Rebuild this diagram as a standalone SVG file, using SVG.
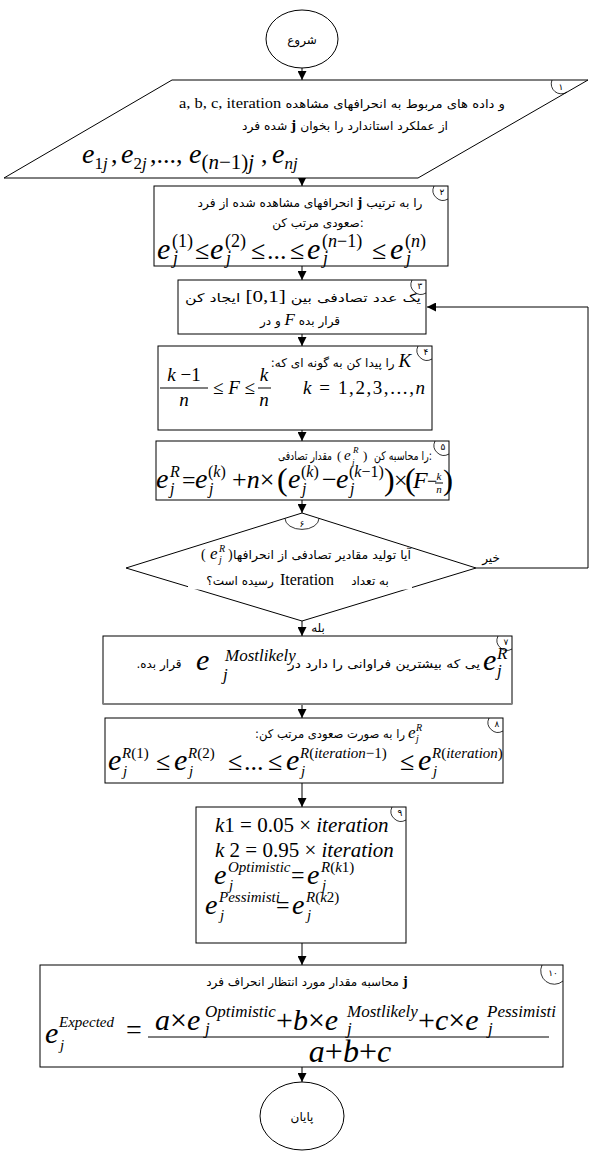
<svg xmlns="http://www.w3.org/2000/svg" width="592" height="1151" viewBox="0 0 592 1151">
<style>
.sh{fill:#fff;stroke:#000;stroke-width:1}
.cn{fill:none;stroke:#000;stroke-width:1}
.nm{fill:none;stroke:#000;stroke-width:0.8}
.fa{font-family:"DejaVu Sans",sans-serif;font-size:12px;fill:#000}
.dg{font-family:"DejaVu Sans",sans-serif;font-size:9px;fill:#000}
.m{font-family:"Liberation Serif",serif;font-style:italic;fill:#000}
.r{font-family:"Liberation Serif",serif;font-style:normal}
.e{font-size:30px}
.s{font-size:18px}
.bar{stroke:#000;stroke-width:1}
</style>
<defs>
<marker id="ah" markerWidth="9" markerHeight="9" refX="9" refY="4.5" orient="auto" markerUnits="userSpaceOnUse"><path d="M0,0 L9,4.5 L0,9 Z" fill="#000"/></marker>
</defs>

<g id="connectors" class="cn" marker-end="url(#ah)">
<path d="M302,68 V80"/>
<path d="M302,178 V186"/>
<path d="M302,266 V280"/>
<path d="M302,334 V346"/>
<path d="M302,430 V441"/>
<path d="M302,500 V513"/>
<path d="M476,568 H588 V307 H427"/>
<path d="M302,621 V636"/>
<path d="M302,704 V718"/>
<path d="M302,783 V807"/>
<path d="M302,943 V965"/>
<path d="M302,1067 V1082"/>
</g>
<text class="fa" x="491" y="562" text-anchor="middle" font-size="11">خیر</text>
<text class="fa" x="318" y="632" text-anchor="middle" font-size="11">بله</text>

<g id="start">
<ellipse class="sh" cx="302" cy="39" rx="36" ry="29"/>
<text class="fa" x="302" y="44" text-anchor="middle" font-size="13">شروع</text>
</g>

<g id="n1">
<polygon class="sh" points="172,80 588,80 418,178 4,178"/>
<path class="nm" d="M552,80 A10 10 0 0 0 567,92"/>
<text class="dg" x="561" y="90" text-anchor="middle">۱</text>
<text class="fa" x="342" y="108" text-anchor="middle" textLength="326" lengthAdjust="spacingAndGlyphs"><tspan class="r" font-size="15">a, b, c, iteration</tspan> و داده های مربوط به انحرافهای مشاهده</text>
<text class="fa" x="345" y="130" text-anchor="middle" textLength="206" lengthAdjust="spacingAndGlyphs">شده فرد <tspan class="r" font-weight="bold" font-size="15">j</tspan> از عملکرد استاندارد را بخوان</text>
<g class="m">
<text x="82" y="163" font-size="28">e<tspan font-size="17" dy="6"><tspan class="r">1</tspan>j</tspan></text>
<text class="r" x="111" y="163" font-size="26">,</text>
<text x="121" y="163" font-size="28">e<tspan font-size="17" dy="6"><tspan class="r">2</tspan>j</tspan></text>
<text class="r" x="150" y="163" font-size="26">,...,</text>
<text x="189" y="163" font-size="28">e<tspan font-size="21" dy="6"><tspan class="r">(</tspan>n<tspan class="r">−1)</tspan>j</tspan></text>
<text class="r" x="261" y="163" font-size="26">,</text>
<text x="272" y="163" font-size="28">e<tspan font-size="17" dy="6">nj</tspan></text>
</g>
</g>

<g id="n2">
<rect class="sh" x="154" y="186" width="294" height="80"/>
<path class="nm" d="M434,186 A10 10 0 0 0 448,199"/>
<text class="dg" x="442" y="195" text-anchor="middle">۲</text>
<text class="fa" x="310" y="207" text-anchor="middle" textLength="225" lengthAdjust="spacingAndGlyphs">انحرافهای مشاهده شده از فرد <tspan class="r" font-weight="bold" font-size="15">j</tspan> را به ترتیب</text>
<text class="fa" x="318" y="227" text-anchor="middle">صعودی مرتب کن:</text>
<g class="m">
<text class="e" x="157" y="259">e</text><text class="s r" x="172" y="247">(1)</text><text class="s" x="173" y="264">j</text>
<text class="r" font-size="26" x="195" y="259">≤</text>
<text class="e" x="210" y="259">e</text><text class="s r" x="225" y="247">(2)</text><text class="s" x="226" y="264">j</text>
<text class="r" font-size="26" x="251" y="259">≤</text>
<text class="r" font-size="26" x="267" y="259">...</text>
<text class="r" font-size="26" x="290" y="259">≤</text>
<text class="e" x="307" y="259">e</text><text class="s" x="322" y="247"><tspan class="r">(</tspan>n<tspan class="r">−1)</tspan></text><text class="s" x="323" y="264">j</text>
<text class="r" font-size="26" x="372" y="259">≤</text>
<text class="e" x="390" y="259">e</text><text class="s" x="405" y="247"><tspan class="r">(</tspan>n<tspan class="r">)</tspan></text><text class="s" x="406" y="264">j</text>
</g>
</g>

<g id="n3">
<rect class="sh" x="178" y="280" width="248" height="54"/>
<path class="nm" d="M412,280 A10 10 0 0 0 426,293"/>
<text class="dg" x="420" y="289" text-anchor="middle">۳</text>
<text class="fa" x="303" y="302" text-anchor="middle" font-size="13" textLength="236" lengthAdjust="spacingAndGlyphs">یک عدد تصادفی بین <tspan class="r" font-size="16">[0,1]</tspan> ایجاد کن</text>
<text class="fa" x="300" y="325" text-anchor="middle" font-size="13">و در <tspan class="m" font-size="17">F</tspan> قرار بده</text>
</g>

<g id="n4">
<rect class="sh" x="158" y="346" width="274" height="84"/>
<path class="nm" d="M418,346 A10 10 0 0 0 432,359"/>
<text class="dg" x="426" y="355" text-anchor="middle">۴</text>
<text class="fa" x="341" y="367" text-anchor="middle" direction="rtl" font-size="13"><tspan class="m" font-size="19">K</tspan> را پیدا کن به گونه ای که:</text>
<g class="m" font-size="19">
<text x="184" y="381" text-anchor="middle">k<tspan class="r"> −1</tspan></text>
<line class="bar" x1="160" y1="388" x2="208" y2="388"/>
<text x="184" y="406" text-anchor="middle">n</text>
<text x="213" y="394"><tspan class="r">≤ </tspan>F<tspan class="r"> ≤</tspan></text>
<text x="264" y="381" text-anchor="middle">k</text>
<line class="bar" x1="258" y1="388" x2="271" y2="388"/>
<text x="264" y="406" text-anchor="middle">n</text>
<text x="303" y="394" textLength="122" lengthAdjust="spacing">k<tspan class="r"> = 1,2,3,...,</tspan>n</text>
</g>
</g>

<g id="n5">
<rect class="sh" x="156" y="441" width="293" height="59"/>
<path class="nm" d="M435,441 A10 10 0 0 0 449,454"/>
<text class="dg" x="443" y="450" text-anchor="middle">۵</text>
<text class="fa" x="305" y="460" text-anchor="middle" textLength="54" lengthAdjust="spacingAndGlyphs">مقدار تصادفی</text>
<g class="m">
<text class="r" x="337" y="460" font-size="13">(</text>
<text x="344" y="460" font-size="15">e</text>
<text x="353" y="453" font-size="9">R</text>
<text x="352" y="465" font-size="9">j</text>
<text class="r" x="363" y="460" font-size="13">)</text>
</g>
<text class="fa" x="403" y="460" text-anchor="middle" textLength="58" lengthAdjust="spacingAndGlyphs">را محاسبه کن:</text>
<g class="m">
<text x="156" y="488" font-size="28">e</text><text x="170" y="477" font-size="16">R</text><text x="170" y="494" font-size="16">j</text>
<text class="r" x="182" y="488" font-size="24">=</text>
<text x="195" y="488" font-size="28">e</text><text x="208" y="477" font-size="16"><tspan class="r">(</tspan>k<tspan class="r">)</tspan></text><text x="209" y="494" font-size="16">j</text>
<text x="232" y="488" font-size="26"><tspan class="r">+</tspan>n<tspan class="r">×</tspan></text>
<text class="r" x="277" y="490" font-size="32">(</text>
<text x="288" y="488" font-size="28">e</text><text x="301" y="477" font-size="16"><tspan class="r">(</tspan>k<tspan class="r">)</tspan></text><text x="302" y="494" font-size="16">j</text>
<text class="r" x="322" y="488" font-size="26">−</text>
<text x="336" y="488" font-size="28">e</text><text x="349" y="477" font-size="16"><tspan class="r">(</tspan>k<tspan class="r">−1)</tspan></text><text x="350" y="494" font-size="16">j</text>
<text class="r" x="384" y="490" font-size="32">)</text>
<text class="r" x="394" y="488" font-size="24">×</text>
<text class="r" x="405" y="490" font-size="32">(</text>
<text x="413" y="488" font-size="24">F</text>
<text class="r" x="427" y="487" font-size="18">−</text>
<text x="439" y="480" font-size="11" text-anchor="middle">k</text>
<line class="bar" x1="435" y1="483" x2="443" y2="483"/>
<text x="439" y="493" font-size="11" text-anchor="middle">n</text>
<text class="r" x="443" y="490" font-size="30">)</text>
</g>
</g>

<g id="n6">
<polygon class="sh" points="302,513 476,568 302,621 126,568"/>
<rect x="188" y="552" width="224" height="37.5" fill="#fff"/>
<path class="nm" d="M285,518.4 A17 11 0 0 0 319,518.4"/>
<text class="dg" x="302" y="527" text-anchor="middle">۶</text>
<g class="m">
<text class="r" x="201" y="559" font-size="14">(</text>
<text x="210" y="559" font-size="17">e</text>
<text x="219" y="552" font-size="10">R</text>
<text x="219" y="563" font-size="10">j</text>
<text class="r" x="228" y="559" font-size="14">)</text>
</g>
<text class="fa" x="322" y="559" text-anchor="middle" textLength="178" lengthAdjust="spacingAndGlyphs">آیا تولید مقادیر تصادفی از انحرافها</text>
<text class="fa" x="370" y="585" text-anchor="middle">به تعداد</text>
<text class="r" x="307" y="585" text-anchor="middle" font-size="16">Iteration</text>
<text class="fa" x="240" y="585" text-anchor="middle" direction="rtl">رسیده است؟</text>
</g>

<g id="n7">
<rect class="sh" x="103" y="636" width="409" height="68"/>
<line x1="103" y1="704" x2="512" y2="704" stroke="#808080" stroke-width="2"/>
<path class="nm" d="M498,636 A10 10 0 0 0 512,649"/>
<text class="dg" x="506" y="645" text-anchor="middle">۷</text>
<text class="fa" x="159" y="668" text-anchor="middle" font-size="11" direction="rtl">قرار بده.</text>
<g class="m">
<text x="196" y="670" font-size="30">e</text>
<text x="225" y="661" font-size="17">Mostlikely</text>
<text x="223" y="680" font-size="17">j</text>
</g>
<text class="fa" x="384" y="668" text-anchor="middle" textLength="192" lengthAdjust="spacingAndGlyphs">یی که بیشترین فراوانی را دارد در</text>
<g class="m">
<text x="483" y="670" font-size="30">e</text>
<text x="497" y="659" font-size="17">R</text>
<text x="497" y="676" font-size="17">j</text>
</g>
</g>

<g id="n8">
<rect class="sh" x="105" y="718" width="398" height="65"/>
<path class="nm" d="M489,718 A10 10 0 0 0 503,731"/>
<text class="dg" x="497" y="727" text-anchor="middle">۸</text>
<text class="fa" x="330" y="738" text-anchor="middle" direction="rtl" textLength="150" lengthAdjust="spacingAndGlyphs">را به صورت صعودی مرتب کن:</text>
<g class="m">
<text x="408" y="738" font-size="17">e</text>
<text x="416" y="731" font-size="10">R</text>
<text x="416" y="742" font-size="10">j</text>
</g>
<g class="m">
<text class="e" x="108" y="770">e</text><text x="122" y="758" font-size="15">R<tspan class="r">(1)</tspan></text><text x="123" y="776" font-size="15">j</text>
<text class="r" font-size="26" x="156" y="770">≤</text>
<text class="e" x="174" y="770">e</text><text x="188" y="758" font-size="15">R<tspan class="r">(2)</tspan></text><text x="189" y="776" font-size="15">j</text>
<text class="r" font-size="26" x="228" y="770">≤</text>
<text class="r" font-size="26" x="244" y="770">...</text>
<text class="r" font-size="26" x="268" y="770">≤</text>
<text class="e" x="286" y="770">e</text><text x="300" y="758" font-size="15">R<tspan class="r">(</tspan>iteration<tspan class="r">−1)</tspan></text><text x="301" y="776" font-size="15">j</text>
<text class="r" font-size="26" x="400" y="770">≤</text>
<text class="e" x="418" y="770">e</text><text x="432" y="758" font-size="15">R<tspan class="r">(</tspan>iteration<tspan class="r">)</tspan></text><text x="433" y="776" font-size="15">j</text>
</g>
</g>

<g id="n9">
<rect class="sh" x="196" y="807" width="210" height="136"/>
<path class="nm" d="M392,807 A10 10 0 0 0 406,820"/>
<text class="dg" x="400" y="816" text-anchor="middle">۹</text>
<g class="m" font-size="21">
<text x="215" y="832">k<tspan class="r">1 = 0.05 × </tspan>iteration</text>
<text x="215" y="857">k<tspan class="r"> 2 = 0.95 × </tspan>iteration</text>
<text x="214" y="884" font-size="28">e</text><text x="228" y="872" font-size="15">Optimistic</text><text x="229" y="890" font-size="15">j</text>
<text class="r" x="291" y="883" font-size="24">=</text>
<text x="307" y="884" font-size="28">e</text><text x="321" y="872" font-size="15">R<tspan class="r">(</tspan>k<tspan class="r">1)</tspan></text><text x="322" y="890" font-size="15">j</text>
<text x="205" y="914" font-size="28">e</text><text x="219" y="902" font-size="15">Pessimisti</text><text x="220" y="920" font-size="15">j</text>
<text class="r" x="276" y="913" font-size="24">=</text>
<text x="292" y="914" font-size="28">e</text><text x="306" y="902" font-size="15">R<tspan class="r">(</tspan>k<tspan class="r">2)</tspan></text><text x="307" y="920" font-size="15">j</text>
</g>
</g>

<g id="n10">
<rect class="sh" x="40" y="965" width="523" height="102"/>
<path class="nm" d="M542,965 A13.5 13.5 0 0 0 563,981"/>
<text class="dg" x="553" y="976" text-anchor="middle">۱۰</text>
<text class="fa" x="307" y="986" text-anchor="middle" font-size="11.5">محاسبه مقدار مورد انتظار انحراف فرد <tspan class="r" font-weight="bold" font-size="15">j</tspan></text>
<g class="m">
<text x="45" y="1043" font-size="30">e</text><text x="59" y="1027" font-size="15">Expected</text><text x="60" y="1050" font-size="15">j</text>
<text class="r" x="126" y="1039" font-size="28">=</text>
<text x="155" y="1030" font-size="30">a<tspan class="r">×</tspan>e</text><text x="205" y="1017" font-size="17">Optimistic</text><text x="205" y="1034" font-size="17">j</text>
<text x="276" y="1030" font-size="30"><tspan class="r">+</tspan>b<tspan class="r">×</tspan>e</text><text x="347" y="1017" font-size="17">Mostlikely</text><text x="347" y="1034" font-size="17">j</text>
<text x="418" y="1030" font-size="30"><tspan class="r">+</tspan>c<tspan class="r">×</tspan>e</text><text x="487" y="1017" font-size="17">Pessimisti</text><text x="488" y="1034" font-size="17">j</text>
<line class="bar" x1="148" y1="1037" x2="549" y2="1037"/>
<text x="350" y="1062" font-size="32" text-anchor="middle">a<tspan class="r">+</tspan>b<tspan class="r">+</tspan>c</text>
</g>
</g>

<g id="end">
<ellipse class="sh" cx="302" cy="1116" rx="42" ry="34"/>
<text class="fa" x="302" y="1121" text-anchor="middle" font-size="12">پایان</text>
</g>
</svg>
